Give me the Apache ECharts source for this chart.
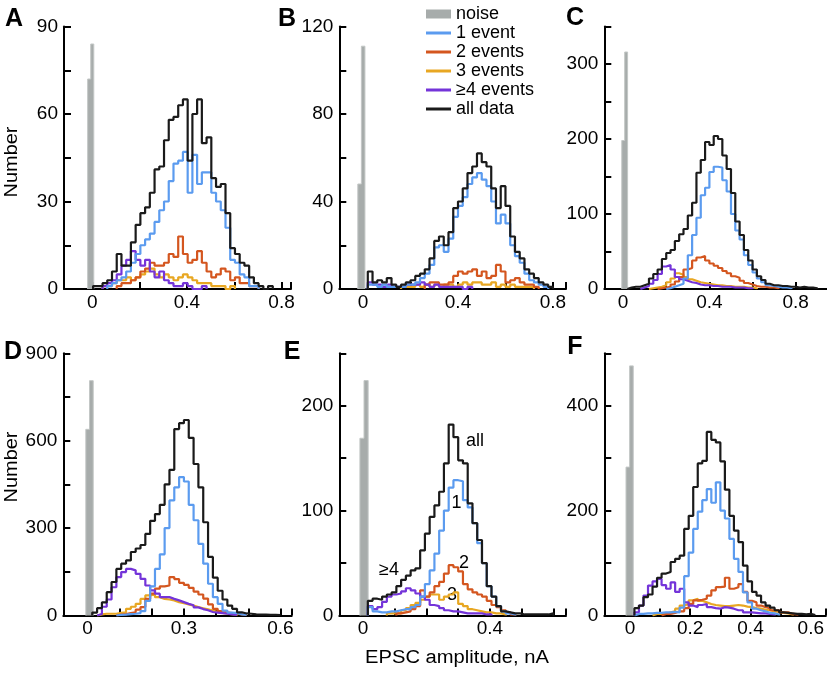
<!DOCTYPE html>
<html><head><meta charset="utf-8">
<script src="https://cdn.jsdelivr.net/npm/echarts@6/dist/echarts.min.js"></script>
<style>html,body{margin:0;padding:0;background:#fff}#c{width:827px;height:677px}</style>
</head><body><div id="c"></div>
<script>
// ---------- data (bin counts) ----------
const NAMES = ['noise', '1 event', '2 events', '3 events', '\u22654 events', 'all data'];
const COLORS = ['#a7acab', '#5b9bef', '#d4561f', '#e8a722', '#7434d9', '#1a1a1a'];
const BIN_TOP = 0.02;
const BIN_BOT = 0.015;

// Panel A
const A_noise = [72, 84]; const A_noise_x0 = -0.02; const A_noise_w = 0.013;
const A_one = [1,2,3,4,6,9,12,15,17,19,23,27,30,37,43,44,47,33,46,36,40,40,33,30,27,21,10,9,5,4,1,1]; const A_one_x0 = 0.063;
const A_two = [1,2,2,3,4,6,7,9,8,8,9,12,11,18,12,9,10,13,9,6,4,5,7,6,3,4,2,2,1,1]; const A_two_x0 = 0.103;
const A_three = [1,1,2,3,3,4,3,4,5,6,7,5,4,5,4,3,4,5,4,3,2,2,2,1,1,1,0,1]; const A_three_x0 = 0.043;
const A_four = [1,2,3,5,8,10,13,10,8,10,6,4,6,3,2,1,1,2,1,0,0,1]; const A_four_x0 = 0.043;
const A_all = [1,1,2,3,6,12,8,8,16,22,26,28,33,41,42,51,58,59,63,65,44,60,65,50,52,38,35,36,26,14,12,9,8,4,2,1,0,1]; const A_all_x0 = 0.003;

// Panel B
const B_noise = [48, 111]; const B_noise_x0 = -0.022; const B_noise_w = 0.015;
const B_one = [2,2,1,2,1,1,1,1,2,2,3,5,7,11,19,20,17,23,33,38,42,48,51,53,50,47,40,30,34,30,20,15,12,7,4,3,2,1]; const B_one_x0 = 0.02;
const B_two = [2,3,3,2,2,3,6,8,7,8,9,6,8,5,6,11,8,3,4,5,3,2,2,1]; const B_two_x0 = 0.26;
const B_three = [1,1,1,2,1,2,1,2,1,2,2,1,2,3,2,3,3,2,2,3,1,2,1,2,1,1,1,1]; const B_three_x0 = 0.16;
const B_four = [3,2,2,1,2,1,1,1,2,2,2,3,2,1,2,1,1,1,1,1,0,1]; const B_four_x0 = 0.02;
const B_all = [8,3,4,3,5,2,1,2,3,4,6,7,9,14,22,24,20,26,37,40,46,53,56,62,58,56,46,37,47,38,24,17,14,9,7,5,3,2,1]; const B_all_x0 = 0.02;

// Panel C
const C_noise = [198, 316]; const C_noise_x0 = -0.006; const C_noise_w = 0.0135;
const C_one = [1,3,5,7,14,45,72,95,125,135,156,163,162,145,130,100,78,66,45,32,22,14,9,5,4,3,2,2,1]; const C_one_x0 = 0.20;
const C_two = [1,2,3,6,10,16,26,28,38,42,44,38,34,31,28,24,21,17,15,11,8,6,4,3,3,2,2,1]; const C_two_x0 = 0.16;
const C_three = [1,2,3,5,9,14,21,19,16,13,11,9,8,7,6,5,5,4,4,3,3,3,2,2,1]; const C_three_x0 = 0.12;
const C_four = [2,4,7,12,20,30,32,26,16,13,11,9,8,6,5,5,4,4,3,3,3,2,2,2,1,1]; const C_four_x0 = 0.08;
const C_all = [2,3,3,5,7,14,20,26,40,48,52,64,73,80,98,115,155,172,196,192,204,200,178,160,128,90,72,52,38,26,17,12,7,5,5,4,4,3,3,2,3,2,2,1]; const C_all_x0 = 0.02;

// Panel D
const D_noise = [639, 806]; const D_noise_x0 = -0.005; const D_noise_w = 0.0115;
const D_one = [2,3,5,6,8,15,50,100,160,210,300,395,440,475,460,380,327,246,178,109,63,40,17,10,8,4,2]; const D_one_x0 = 0.09;
const D_two = [3,5,8,11,20,29,57,75,92,100,103,132,125,112,105,95,82,72,58,38,23,15,11,8,6,4,2]; const D_two_x0 = 0.09;
const D_three = [4,6,6,6,9,11,23,30,40,57,69,72,63,57,55,52,46,42,38,34,29,25,21,17,12,9,6,5,3]; const D_three_x0 = 0.03;
const D_four = [5,30,55,97,132,149,160,155,143,126,103,86,75,63,63,57,52,46,40,35,28,22,18,12,10,8,6,4,2]; const D_four_x0 = 0.03;
const D_all = [10,25,45,80,115,160,178,189,218,230,242,280,325,348,380,450,500,640,660,671,610,520,440,320,201,130,85,55,34,23,11,7,6,4,3,3,2,2,1]; const D_all_x0 = 0.015;

// Panel E
const E_noise = [169, 224]; const E_noise_x0 = -0.01; const E_noise_w = 0.013;
const E_one = [8,4,3,3,4,4,5,6,6,8,10,18,30,43,59,81,100,122,129,128,110,103,88,69,50,28,18,9,4,2,1]; const E_one_x0 = 0.015;
const E_two = [2,3,4,6,9,24,18,22,28,32,40,48,46,42,30,25,22,20,18,14,10,8,5,3,1]; const E_two_x0 = 0.105;
const E_three = [2,2,2,5,7,10,12,15,18,20,20,15,18,20,22,11,9,6,5,4,3,3,2,2,1]; const E_three_x0 = 0.075;
const E_four = [9,6,8,13,18,20,21,23,26,24,21,18,15,10,9,7,5,4,4,3,2,2,2,2,1,1]; const E_four_x0 = 0.015;
const E_all = [14,16,15,18,20,22,28,34,38,43,45,62,78,94,105,118,145,182,170,148,145,107,88,72,50,28,18,9,4,3,2,2,1,1,1,1,1,1,2]; const E_all_x0 = 0.015;

// Panel F
const F_noise = [283, 476]; const F_noise_x0 = -0.013; const F_noise_w = 0.012;
const F_one = [3,3,4,4,5,5,6,6,7,6,15,75,120,165,198,220,241,215,254,200,185,146,108,83,44,25,13,10,8,5,4,2]; const F_one_x0 = 0.015;
const F_two = [3,3,5,8,8,14,22,29,30,32,38,48,54,55,72,51,54,60,45,28,25,19,16,14,10,10,6,6,3,2]; const F_two_x0 = 0.105;
const F_three = [3,3,3,6,8,13,19,22,29,32,28,25,22,20,19,18,18,19,20,19,17,16,14,13,11,10,8,7,5,4,2]; const F_three_x0 = 0.075;
const F_four = [6,19,38,57,65,70,58,51,63,45,51,25,19,16,20,22,16,14,13,16,15,13,10,10,6,6,5,4,4,3,2]; const F_four_x0 = 0.015;
const F_all = [14,19,35,40,55,72,80,83,102,108,114,165,190,245,290,295,350,335,330,294,240,190,162,140,95,65,45,38,25,19,15,10,6,5,4,3,3,2,3,1]; const F_all_x0 = 0.015;

// Axis ticks / labels
const A_xLabels = [0, 0.4, 0.8]; const A_xTicks = [0, 0.2, 0.4, 0.6, 0.8, 0.84];
const A_yLabels = [0, 30, 60, 90]; const A_yTicks = [0, 15, 30, 45, 60, 75, 90];
const B_xLabels = [0, 0.4, 0.8]; const B_xTicks = [0, 0.2, 0.4, 0.6, 0.8, 0.855];
const B_yLabels = [0, 40, 80, 120]; const B_yTicks = [0, 20, 40, 60, 80, 100, 120];
const C_xLabels = [0, 0.4, 0.8]; const C_xTicks = [0, 0.2, 0.4, 0.6, 0.8];
const C_yLabels = [0, 100, 200, 300]; const C_yTicks = [0, 50, 100, 150, 200, 250, 300, 350];
const D_xLabels = [0, 0.3, 0.6]; const D_xTicks = [0, 0.1, 0.2, 0.3, 0.4, 0.5, 0.6, 0.635];
const D_yLabels = [0, 300, 600, 900]; const D_yTicks = [0, 150, 300, 450, 600, 750, 900];
const E_xLabels = [0, 0.4]; const E_xTicks = [0, 0.1, 0.2, 0.3, 0.4, 0.5, 0.6, 0.64];
const E_yLabels = [0, 100, 200]; const E_yTicks = [0, 50, 100, 150, 200, 250];
const F_xLabels = [0, 0.2, 0.4, 0.6]; const F_xTicks = [0, 0.1, 0.2, 0.3, 0.4, 0.5, 0.6, 0.65];
const F_yLabels = [0, 200, 400]; const F_yTicks = [0, 100, 200, 300, 400, 500];

// ---------- layout ----------
const PANELS = [
  {grid: {left: 64, top: 26.5, width: 227, height: 262.5}, xr: [-0.12, 0.84], yMax: 90, bin: BIN_TOP,
   xl: A_xLabels, xt: A_xTicks, yl: A_yLabels, yt: A_yTicks,
   noise: [A_noise, A_noise_x0, A_noise_w],
   s: [[A_one, A_one_x0], [A_two, A_two_x0], [A_three, A_three_x0], [A_four, A_four_x0], [A_all, A_all_x0]]},
  {grid: {left: 339.3, top: 26.5, width: 226.7, height: 262.5}, xr: [-0.1, 0.855], yMax: 120, bin: BIN_TOP,
   xl: B_xLabels, xt: B_xTicks, yl: B_yLabels, yt: B_yTicks,
   noise: [B_noise, B_noise_x0, B_noise_w],
   s: [[B_one, B_one_x0], [B_two, B_two_x0], [B_three, B_three_x0], [B_four, B_four_x0], [B_all, B_all_x0]]},
  {grid: {left: 604.3, top: 26.5, width: 222.7, height: 262.5}, xr: [-0.087, 0.945], yMax: 350, bin: BIN_TOP,
   xl: C_xLabels, xt: C_xTicks, yl: C_yLabels, yt: C_yTicks,
   noise: [C_noise, C_noise_x0, C_noise_w],
   s: [[C_one, C_one_x0], [C_two, C_two_x0], [C_three, C_three_x0], [C_four, C_four_x0], [C_all, C_all_x0]]},
  {grid: {left: 63.3, top: 353.3, width: 228.4, height: 262.2}, xr: [-0.075, 0.635], yMax: 900, bin: BIN_BOT,
   xl: D_xLabels, xt: D_xTicks, yl: D_yLabels, yt: D_yTicks,
   noise: [D_noise, D_noise_x0, D_noise_w],
   s: [[D_one, D_one_x0], [D_two, D_two_x0], [D_three, D_three_x0], [D_four, D_four_x0], [D_all, D_all_x0]]},
  {grid: {left: 339.3, top: 353.3, width: 226.7, height: 262.2}, xr: [-0.075, 0.64], yMax: 250, bin: BIN_BOT,
   xl: E_xLabels, xt: E_xTicks, yl: E_yLabels, yt: E_yTicks,
   noise: [E_noise, E_noise_x0, E_noise_w],
   s: [[E_one, E_one_x0], [E_two, E_two_x0], [E_three, E_three_x0], [E_four, E_four_x0], [E_all, E_all_x0]]},
  {grid: {left: 604.3, top: 353.3, width: 222.7, height: 262.2}, xr: [-0.085, 0.65], yMax: 500, bin: BIN_BOT,
   xl: F_xLabels, xt: F_xTicks, yl: F_yLabels, yt: F_yTicks,
   noise: [F_noise, F_noise_x0, F_noise_w],
   s: [[F_one, F_one_x0], [F_two, F_two_x0], [F_three, F_three_x0], [F_four, F_four_x0], [F_all, F_all_x0]]}
];

const FONT = '"Liberation Sans", Arial, Helvetica, sans-serif';

function stepData(counts, x0, w) {
  const pts = [[x0, 0]];
  counts.forEach((c, i) => pts.push([x0 + i * w, c]));
  pts.push([x0 + counts.length * w, 0]);
  return pts;
}

const grids = [], xAxes = [], yAxes = [], series = [];
const axisLine = {show: true, onZero: false, lineStyle: {color: '#000', width: 2}};
PANELS.forEach((p, gi) => {
  grids.push(Object.assign({containLabel: false}, p.grid));
  xAxes.push({
    type: 'value', gridIndex: gi, min: p.xr[0], max: p.xr[1],
    axisLine: axisLine,
    axisTick: {show: true, inside: true, length: 7, lineStyle: {color: '#000', width: 2}, customValues: p.xt},
    axisLabel: {customValues: p.xl, color: '#000', fontSize: 19, fontFamily: FONT, margin: 4, formatter: v => String(v)},
    splitLine: {show: false}
  });
  yAxes.push({
    type: 'value', gridIndex: gi, min: 0, max: p.yMax,
    axisLine: axisLine,
    axisTick: {show: true, inside: true, length: 7, lineStyle: {color: '#000', width: 2}, customValues: p.yt},
    axisLabel: {customValues: p.yl, color: '#000', fontSize: 19, fontFamily: FONT, margin: 6},
    splitLine: {show: false}
  });
  // noise (filled gray bars)
  series.push({
    name: NAMES[0], type: 'line', step: 'end', xAxisIndex: gi, yAxisIndex: gi,
    data: stepData(p.noise[0], p.noise[1], p.noise[2]),
    showSymbol: false, symbol: 'none', silent: true, color: COLORS[0],
    lineStyle: {color: '#c3c7c6', width: 1}, areaStyle: {color: COLORS[0], opacity: 1}, z: 2
  });
  // draw order: 3 events, 2 events, >=4, 1 event, all
  const order = [2, 1, 3, 0, 4];
  order.forEach(k => {
    const [counts, x0] = p.s[k];
    series.push({
      name: NAMES[k + 1], type: 'line', step: 'end', xAxisIndex: gi, yAxisIndex: gi,
      data: stepData(counts, x0, p.bin),
      showSymbol: false, symbol: 'none', silent: true, color: COLORS[k + 1],
      lineStyle: {color: COLORS[k + 1], width: 2.2}, z: 3
    });
  });
});

const LINE_ICON = 'path://M0,0H25V3H0Z';
function txt(text, x, y, font, extra) {
  return Object.assign({
    type: 'text', x: x, y: y, silent: true,
    style: {text: text, font: font, fill: '#000', align: 'center', verticalAlign: 'middle',
            textAlign: 'center', textVerticalAlign: 'middle'}
  }, extra || {});
}
const LETTER = 'bold 25px ' + FONT;
const ANNO = '18px ' + FONT;

const option = {
  animation: false,
  backgroundColor: '#fff',
  grid: grids, xAxis: xAxes, yAxis: yAxes, series: series,
  legend: {
    orient: 'vertical', left: 426, top: 5, padding: 0, itemWidth: 25, itemHeight: 9, itemGap: 1,
    selectedMode: false,
    textStyle: {fontSize: 18, fontFamily: FONT, color: '#000', lineHeight: 18},
    data: [
      {name: NAMES[0], icon: 'rect'},
      {name: NAMES[1], icon: LINE_ICON},
      {name: NAMES[2], icon: LINE_ICON},
      {name: NAMES[3], icon: LINE_ICON},
      {name: NAMES[4], icon: LINE_ICON},
      {name: NAMES[5], icon: LINE_ICON}
    ]
  },
  graphic: [
    txt('A', 14, 19, LETTER), txt('B', 287, 19, LETTER), txt('C', 575, 18, LETTER),
    txt('D', 13, 352, LETTER), txt('E', 292, 352.5, LETTER), txt('F', 575, 347, LETTER),
    txt('Number', 12, 162, '19px ' + FONT, {rotation: Math.PI / 2, scaleX: 1.05}),
    txt('Number', 12, 467, '19px ' + FONT, {rotation: Math.PI / 2, scaleX: 1.05}),
    txt('EPSC amplitude, nA', 457, 658, '18px ' + FONT, {scaleX: 1.12}),
    txt('all', 475, 441, ANNO), txt('1', 456.5, 503, ANNO), txt('2', 464, 563.5, ANNO),
    txt('3', 452, 595, ANNO), txt('\u22654', 389, 570, ANNO)
  ]
};

const chart = echarts.init(document.getElementById('c'), null, {renderer: 'canvas'});
chart.setOption(option);
</script>
</body></html>
